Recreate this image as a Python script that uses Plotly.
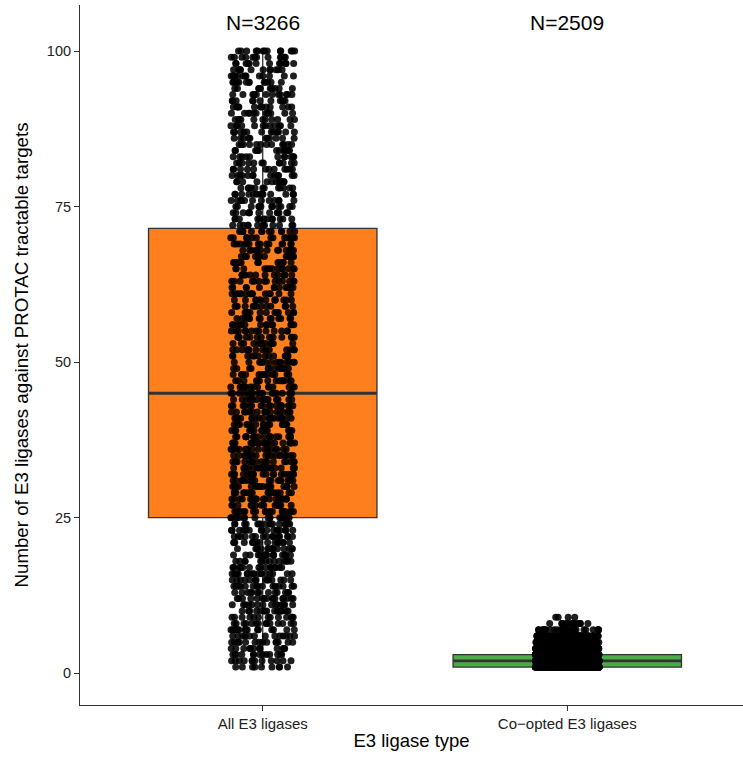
import numpy as np
import plotly.graph_objects as go

# ---------------- data ----------------
categories = ["All E3 ligases", "Co\u2212opted E3 ligases"]
n_labels = ["N=3266", "N=2509"]

# number of E3 ligases per target (integer values) and how many targets have each value
all_values = list(range(1, 101))
all_counts = [
    9, 12, 13, 12, 14, 13, 15, 14, 13, 15, 14, 16, 13, 15, 14, 16, 15, 14, 16, 15,
    16, 15, 17, 16, 17, 18, 17, 19, 18, 17, 19, 18, 17, 18, 19, 17, 18, 17, 18, 17,
    18, 16, 17, 16, 17, 15, 14, 14, 13, 14, 13, 14, 13, 14, 13, 14, 13, 14, 13, 13,
    14, 13, 14, 13, 13, 14, 13, 13, 14, 13, 13, 13, 12, 13, 12, 12, 13, 12, 12, 13,
    12, 12, 11, 12, 12, 11, 12, 12, 11, 12, 12, 11, 12, 11, 12, 12, 11, 12, 12, 13,
]
coopted_values = [1, 2, 3, 4, 5, 6, 7, 8, 9]
coopted_counts = [900, 700, 450, 220, 120, 60, 30, 15, 4]

# box statistics
q1 = [25, 1]
median = [45, 2]
q3 = [71.5, 3]
lower_fence = [1, 1]
upper_fence = [100, 6]

fill_colors = ["#FE7F1E", "#48AD44"]

# ---------------- figure ----------------
FONT = "Liberation Sans, Arial, Helvetica, sans-serif"
EDGE = "#333333"

fig = go.Figure()

point_sets = [
    np.repeat(all_values, all_counts),
    np.repeat(coopted_values, coopted_counts),
]

for i, cat in enumerate(categories):
    # box
    fig.add_trace(go.Box(
        x=[cat], q1=[q1[i]], median=[median[i]], q3=[q3[i]],
        lowerfence=[lower_fence[i]], upperfence=[upper_fence[i]],
        width=0.75, whiskerwidth=0, fillcolor=fill_colors[i],
        line=dict(color=EDGE, width=1.3), boxpoints=False,
        hoverinfo="skip", showlegend=False,
    ))
    # thicker median line
    fig.add_trace(go.Box(
        x=[cat], q1=[median[i]], median=[median[i]], q3=[median[i]],
        lowerfence=[median[i]], upperfence=[median[i]],
        width=0.75, whiskerwidth=0, fillcolor="rgba(0,0,0,0)",
        line=dict(color=EDGE, width=2.8), boxpoints=False,
        hoverinfo="skip", showlegend=False,
    ))

for i, cat in enumerate(categories):
    y = point_sets[i]
    fig.add_trace(go.Box(
        x=[cat] * len(y), y=y, boxpoints="all", jitter=1, pointpos=0,
        width=0.21, whiskerwidth=0, fillcolor="rgba(0,0,0,0)",
        line=dict(width=0, color="rgba(0,0,0,0)"),
        marker=dict(color="rgba(0,0,0,0.88)", size=7),
        hoverinfo="skip", showlegend=False,
    ))

for i, cat in enumerate(categories):
    fig.add_annotation(
        x=cat, y=104.6, xref="x", yref="y", text=n_labels[i], showarrow=False,
        font=dict(family=FONT, size=21, color="black"), yanchor="middle",
    )

fig.update_layout(
    width=743, height=760,
    margin=dict(l=80, r=0, t=5, b=55),
    paper_bgcolor="white", plot_bgcolor="white",
    boxmode="overlay",
    font=dict(family=FONT, color="black"),
    showlegend=False,
)

fig.update_xaxes(
    type="category", categoryorder="array", categoryarray=categories,
    range=[-0.6, 1.577], showgrid=False, zeroline=False,
    showline=True, linecolor=EDGE, linewidth=1.1,
    ticks="outside", ticklen=5, tickwidth=1.1, tickcolor=EDGE,
    tickfont=dict(family=FONT, size=15, color="#222222"),
    title=dict(text="E3 ligase type", font=dict(family=FONT, size=18.5, color="black"), standoff=3),
    automargin=False,
)
fig.update_yaxes(
    range=[-5.1, 107.4], tickvals=[0, 25, 50, 75, 100],
    showgrid=False, zeroline=False,
    showline=True, linecolor=EDGE, linewidth=1.1,
    ticks="outside", ticklen=5, tickwidth=1.1, tickcolor=EDGE,
    tickfont=dict(family=FONT, size=14.5, color="#222222"),
    title=dict(text="Number of E3 ligases against PROTAC tractable targets",
               font=dict(family=FONT, size=18.7, color="black"), standoff=13),
    automargin=False,
)

fig.write_html("out.html", config={"displayModeBar": False},
               post_script="document.body.style.margin='0';")
